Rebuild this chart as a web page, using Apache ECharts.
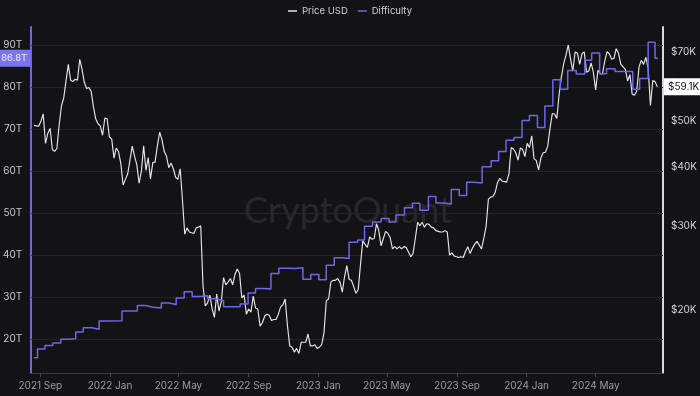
<!DOCTYPE html>
<html>
<head>
<meta charset="utf-8">
<script src="https://cdn.jsdelivr.net/npm/echarts@6/dist/echarts.min.js"></script>
<style>
html,body{margin:0;padding:0;background:#131316;}
#c{width:700px;height:396px;}
</style>
</head>
<body>
<div id="c"></div>
<script>
// ---- Data ----
// BTC price (thousand USD), one reading every 4 days starting 2021-08-21
const priceStart = '2021-08-21';
const priceStepDays = 4;
const priceK = [
  49.0, 48.9, 48.8, 50.0, 51.8, 44.9, 47.1, 48.3, 43.6, 43.2,
  43.8, 49.2, 53.9, 56.0, 60.9, 65.9, 61.0, 60.6, 61.3, 61.0,
  67.5, 64.4, 60.4, 58.6, 58.9, 57.8, 53.6, 50.6, 49.4, 48.9,
  46.7, 50.8, 50.6, 46.3, 45.9, 41.8, 43.9, 43.1, 40.7, 36.7,
  37.7, 38.7, 41.4, 44.3, 42.2, 40.5, 37.0, 39.2, 44.4, 39.4,
  41.9, 37.8, 40.9, 41.0, 44.3, 47.4, 45.8, 43.2, 42.2, 39.9,
  40.8, 39.7, 38.1, 37.7, 39.7, 34.1, 28.9, 29.8, 29.2, 29.1,
  29.0, 29.8, 29.9, 30.1, 22.5, 20.4, 20.7, 21.5, 20.1, 19.3,
  21.6, 19.9, 20.8, 23.4, 22.6, 22.9, 23.3, 22.6, 23.8, 24.4,
  23.9, 21.2, 21.5, 19.6, 20.1, 19.8, 21.4, 20.2, 20.1, 18.5,
  18.8, 19.4, 19.6, 19.5, 19.0, 19.1, 19.1, 19.6, 20.3, 20.5,
  21.1, 18.5, 16.8, 16.7, 16.3, 16.6, 16.2, 17.1, 17.1, 17.1,
  17.8, 16.8, 16.8, 16.9, 16.6, 16.7, 16.9, 17.9, 20.9, 21.1,
  22.9, 23.1, 23.1, 23.3, 22.9, 21.8, 23.5, 24.8, 23.2, 23.1,
  22.4, 21.7, 22.1, 25.0, 28.0, 27.5, 27.1, 28.5, 28.2, 28.3,
  30.4, 29.4, 27.3, 28.3, 29.3, 29.0, 28.4, 26.9, 27.2, 26.9,
  27.2, 26.9, 27.2, 27.1, 26.5, 25.9, 26.3, 28.3, 30.6, 30.1,
  30.6, 29.9, 30.4, 30.3, 29.9, 29.8, 29.4, 29.3, 29.2, 29.2,
  29.4, 29.2, 26.1, 26.4, 26.0, 25.9, 25.8, 25.9, 25.8, 26.6,
  27.2, 26.3, 27.0, 27.5, 27.9, 27.4, 26.9, 28.3, 30.0, 34.2,
  34.6, 34.7, 35.4, 37.1, 37.9, 37.4, 37.3, 37.2, 38.7, 44.0,
  43.7, 42.9, 41.4, 43.9, 43.6, 42.1, 44.9, 44.0, 46.6, 41.7,
  41.3, 39.5, 41.8, 42.9, 43.0, 44.3, 48.3, 51.9, 51.8, 50.7,
  57.0, 62.0, 66.1, 68.9, 72.4, 67.6, 63.8, 70.0, 69.6, 65.9,
  69.4, 70.0, 63.4, 63.8, 66.4, 63.4, 58.2, 64.0, 63.0, 62.9,
  67.0, 70.1, 69.3, 67.6, 67.8, 71.1, 69.6, 66.0, 65.1, 64.3,
  60.8, 62.7, 57.0, 56.7, 57.9, 65.1, 67.2, 65.9, 68.2, 64.6,
  54.0, 60.9, 60.6, 59.1
];

// Mining difficulty (T), value in force from each date
const diffDates = [
  '2021-08-21','2021-08-27','2021-09-09','2021-09-23','2021-10-07','2021-10-20','2021-11-02','2021-11-15','2021-11-30','2021-12-13',
  '2021-12-26','2022-01-22','2022-02-04','2022-02-18','2022-03-04','2022-03-18','2022-04-01','2022-04-14','2022-04-27','2022-05-11',
  '2022-05-25','2022-06-08','2022-06-21','2022-07-05','2022-07-19','2022-08-17','2022-08-31','2022-09-13','2022-09-27','2022-10-10',
  '2022-10-24','2022-11-07','2022-11-21','2022-12-05','2022-12-19','2023-01-02','2023-01-15','2023-01-29','2023-02-12','2023-02-24',
  '2023-03-11','2023-03-23','2023-04-06','2023-04-21','2023-05-05','2023-05-17','2023-06-01','2023-06-15','2023-06-28','2023-07-13',
  '2023-07-26','2023-08-09','2023-08-22','2023-09-05','2023-09-18','2023-10-01','2023-10-15','2023-10-31','2023-11-13','2023-11-26',
  '2023-12-10','2023-12-24','2024-01-06','2024-01-20','2024-02-02','2024-02-16','2024-02-29','2024-03-13','2024-03-28','2024-04-12',
  '2024-04-24','2024-05-08','2024-05-20','2024-06-04','2024-06-19','2024-07-05','2024-07-17','2024-08-01','2024-08-13','2024-08-18'
];
const diffT = [
  15.56, 17.62, 18.42, 19.05, 19.93, 20.08, 21.66, 22.67, 22.34, 24.27,
  24.37, 26.69, 26.64, 27.97, 27.55, 27.40, 28.59, 28.23, 29.79, 31.25,
  30.10, 30.28, 29.57, 29.15, 27.69, 28.35, 30.98, 32.05, 31.90, 35.61,
  36.84, 36.76, 36.95, 34.24, 35.36, 34.09, 37.59, 39.35, 39.16, 43.05,
  43.55, 46.84, 47.89, 48.71, 47.89, 49.55, 51.23, 52.35, 50.65, 53.91,
  52.39, 52.14, 55.62, 54.15, 57.32, 57.12, 61.03, 62.46, 64.68, 67.31,
  67.96, 72.01, 73.20, 70.34, 75.50, 81.73, 79.50, 83.95, 83.13, 86.39,
  88.10, 83.15, 84.38, 83.70, 83.70, 79.50, 82.05, 90.67, 86.87, 86.87
];

const xTickDates = ['2021-09-01','2022-01-01','2022-05-01','2022-09-01','2023-01-01','2023-05-01','2023-09-01','2024-01-01','2024-05-01'];
const leftTicksT = [20, 30, 40, 50, 60, 70, 80, 90];
const rightTicksUSD = [20000, 30000, 40000, 50000, 60000, 70000];
const lastPrice = 59100;
const lastDiff = 86.87;

// ---- Build ----
const DAY = 86400000;
function utc(s){ const p = s.split('-').map(Number); return Date.UTC(p[0], p[1]-1, p[2]); }
const MONTHS = ['Jan','Feb','Mar','Apr','May','Jun','Jul','Aug','Sep','Oct','Nov','Dec'];
const t0 = utc(priceStart);
const priceData = priceK.map((v, i) => [t0 + i*priceStepDays*DAY, v*1000]);
const diffData = diffDates.map((d, i) => [utc(d), diffT[i]]);
const xTicks = xTickDates.map(utc);

const PURPLE = '#6d67ea';
const CLEAR = 'rgba(0,0,0,0)';
const chart = echarts.init(document.getElementById('c'), null, {renderer: 'canvas'});
const FONT = 'Inter, "Noto Sans", sans-serif';

chart.setOption({
  backgroundColor: '#131316',
  animation: false,
  textStyle: {fontFamily: FONT},
  legend: {
    top: 1, left: 'center',
    icon: 'rect', itemWidth: 9, itemHeight: 1.5, itemGap: 10,
    textStyle: {color: '#cfcfd4', fontSize: 9.5, fontFamily: FONT},
    data: ['Price USD', 'Difficulty']
  },
  graphic: [{
    type: 'text', x: 348, y: 211, silent: true, z: 0,
    style: {text: 'CryptoQuant', fill: 'rgba(255,255,255,0.09)', font: '36px Lato, sans-serif', textAlign: 'center', textVerticalAlign: 'middle'}
  }],
  grid: {left: 31, right: 37, top: 27, bottom: 23},
  xAxis: {
    type: 'value',
    min: utc('2021-08-16'), max: utc('2024-08-27'),
    axisLine: {lineStyle: {color: '#3a3a40'}},
    axisTick: {show: true, customValues: xTicks, length: 4, lineStyle: {color: '#4a4a50'}},
    axisLabel: {
      customValues: xTicks, color: '#9c9ca2', fontSize: 10, margin: 8, fontFamily: FONT,
      formatter: v => { const d = new Date(v); return d.getUTCFullYear() + ' ' + MONTHS[d.getUTCMonth()]; }
    },
    splitLine: {show: false}
  },
  yAxis: [{
    type: 'value', position: 'left', min: 11.9, max: 94.3,
    axisLine: {show: true, lineStyle: {color: PURPLE, width: 2}},
    axisTick: {show: false},
    axisLabel: {customValues: leftTicksT, formatter: v => v + 'T', color: '#c9c9ce', fontSize: 10, margin: 9, fontFamily: FONT},
    splitLine: {show: false}
  }, {
    type: 'log', position: 'right', min: 14730, max: 79000, logBase: 10,
    axisLine: {show: true, lineStyle: {color: '#d9d9dc', width: 2}},
    axisTick: {show: false},
    axisLabel: {show: false},
    splitLine: {show: false}
  }],
  series: [{
    name: 'Price USD', type: 'line', yAxisIndex: 1, data: priceData,
    showSymbol: false, symbol: 'none', z: 3,
    lineStyle: {color: '#e6e6e9', width: 1.15}, itemStyle: {color: '#e6e6e9'},
    markLine: {
      silent: true, symbol: ['none', 'none'], animation: false, z: 10,
      lineStyle: {color: CLEAR, width: 1},
      label: {show: true, position: 'end', distance: 8, color: '#d4d4d8', fontSize: 10, fontFamily: FONT,
              formatter: p => '$' + Math.round(p.value/1000) + 'K'},
      data: rightTicksUSD.map(v => ({yAxis: v})).concat([{
        yAxis: lastPrice,
        label: {show: true, position: 'end', distance: 1, backgroundColor: '#ffffff', color: '#111114',
                padding: [4, 4, 3, 4], fontSize: 10, fontFamily: FONT, formatter: '$59.1K'}
      }])
    }
  }, {
    name: 'Difficulty', type: 'line', yAxisIndex: 0, data: diffData, step: 'end',
    showSymbol: false, symbol: 'none', z: 4,
    lineStyle: {color: PURPLE, width: 1.5}, itemStyle: {color: PURPLE},
    markLine: {
      silent: true, symbol: ['none', 'none'], animation: false, z: 1,
      lineStyle: {color: '#232328', width: 1, type: 'solid'},
      label: {show: false},
      data: leftTicksT.map(v => ({yAxis: v})).concat([{
        yAxis: lastDiff, lineStyle: {color: CLEAR},
        label: {show: true, position: 'start', distance: 1, backgroundColor: '#7b74f0', color: '#eeeeff',
                padding: [4, 3, 3, 3], fontSize: 9.5, fontFamily: FONT, formatter: '86.8T'}
      }])
    }
  }]
});
</script>
</body>
</html>
